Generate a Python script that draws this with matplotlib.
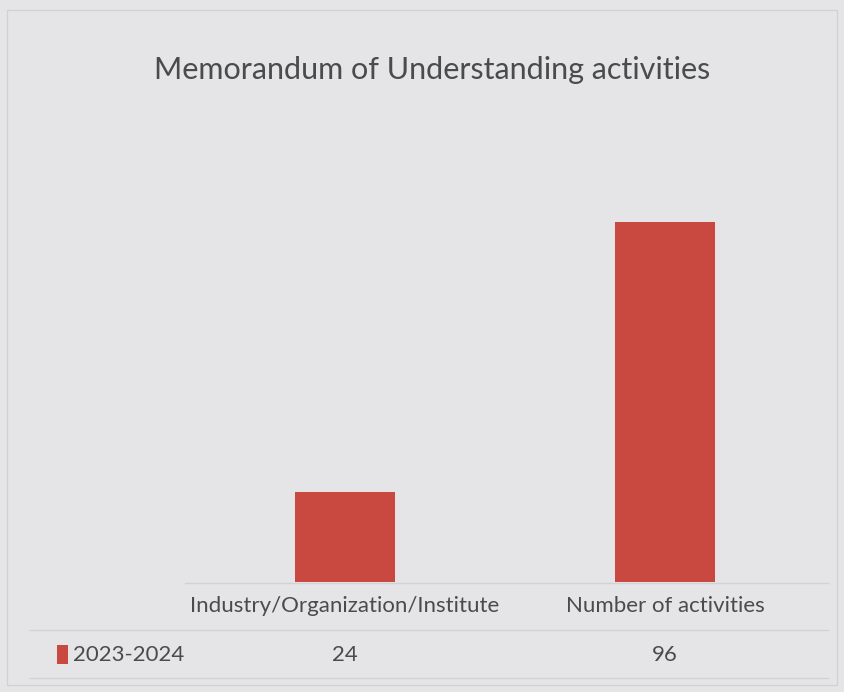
import matplotlib.pyplot as plt
from matplotlib.lines import Line2D
from matplotlib.patches import Rectangle
import matplotlib.transforms as mtransforms

categories = ["Industry/Organization/Institute", "Number of activities"]
series_name = "2023-2024"
values = [24, 96]

W, H = 844, 692
bg = "#e5e5e7"
bar_color = "#c9483f"
text_color = "#4a4b4d"
line_color = "#d2d2d4"

plt.rcParams["font.family"] = ["Lato", "DejaVu Sans"]

fig = plt.figure(figsize=(W / 100, H / 100), dpi=100)
fig.patch.set_facecolor(bg)


def fx(px):
    return px / W


def fy(py):
    return 1 - py / H


# plot area
ax_left, ax_right, ax_top, ax_bottom = 185, 825, 132, 582
ax = fig.add_axes([fx(ax_left), fy(ax_bottom), fx(ax_right - ax_left), (ax_bottom - ax_top) / H])
ax.set_facecolor("none")
x = list(range(len(categories)))
ax.bar(x, values, width=0.31, color=bar_color)
ax.set_xlim(-0.5, len(categories) - 0.5)
ax.set_ylim(0, 120)
ax.axis("off")

fig.text(0.512, fy(70), "Memorandum of Understanding activities", ha="center", va="center",
         fontsize=22, color=text_color)

# chart border
fig.patches.append(Rectangle((fx(7), fy(685)), fx(830), (685 - 10) / H, transform=fig.transFigure,
                             fill=False, edgecolor=line_color, linewidth=1))

# data table
trans = mtransforms.blended_transform_factory(ax.transData, fig.transFigure)
for xi, cat, v in zip(x, categories, values):
    fig.text(xi, fy(606), cat, transform=trans, ha="center", va="center",
             fontsize=16, color=text_color)
    fig.text(xi, fy(655), str(v), transform=trans, ha="center", va="center",
             fontsize=16, color=text_color)

for y0, x0 in [(583, 185), (630, 30), (678, 30)]:
    fig.lines.append(Line2D([fx(x0), fx(828)], [fy(y0), fy(y0)], transform=fig.transFigure,
                            color=line_color, linewidth=1))

fig.patches.append(Rectangle((fx(57), fy(664)), fx(11), 19 / H, transform=fig.transFigure,
                             facecolor=bar_color, edgecolor="none"))
fig.text(fx(73), fy(655), series_name, ha="left", va="center", fontsize=16, color=text_color)

fig.savefig("out.png", dpi=100, facecolor=bg)
